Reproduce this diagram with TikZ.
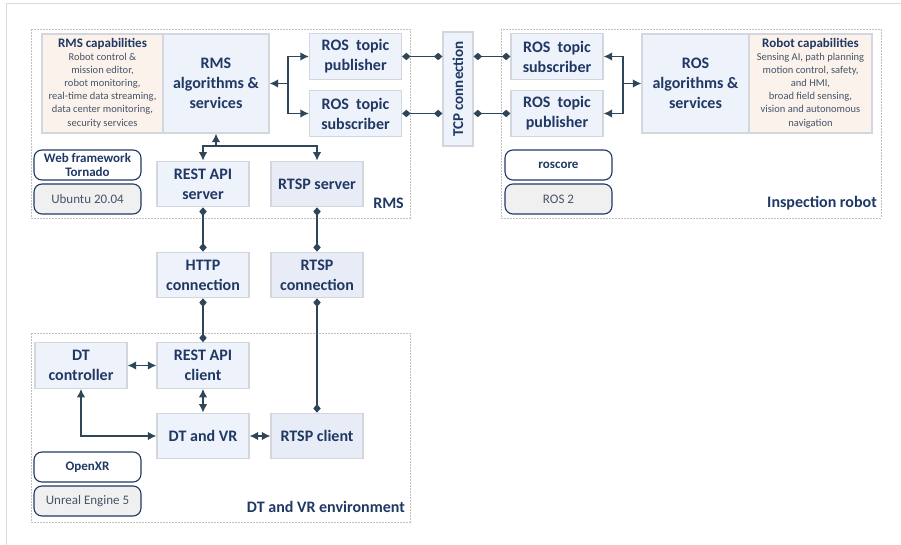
\documentclass[tikz,border=0pt]{standalone}
\usepackage{fontspec}
\setmainfont{Carlito}
\usepackage{tikz}
\usetikzlibrary{arrows.meta, positioning, calc}

\definecolor{navy}{HTML}{1F3864}
\definecolor{slate}{HTML}{44546A}
\definecolor{wire}{HTML}{2E4657}
\definecolor{boxfill}{HTML}{EEF2FA}
\definecolor{boxfilldark}{HTML}{E8ECF6}
\definecolor{boxline}{HTML}{D3D6DC}
\definecolor{peach}{HTML}{FBF2EB}
\definecolor{groupline}{HTML}{BFBFBF}
\definecolor{osfill}{HTML}{F0F0F0}

\tikzset{
  block/.style={draw=boxline, fill=boxfill, text=navy, line width=1.2pt, inner sep=0pt,
    align=center, font=\bfseries\fontsize{16}{20}\selectfont,
    minimum width=92pt, minimum height=45.5pt},
  blockdark/.style={block, fill=boxfilldark},
  bigblock/.style={block, minimum width=106pt, minimum height=99pt},
  capbox/.style={draw=boxline, fill=peach, text=slate, line width=1.2pt, inner sep=0pt,
    align=center, font=\fontsize{10.5}{13}\selectfont,
    minimum width=121pt, minimum height=99pt},
  swbox/.style={draw=navy, fill=white, text=navy, line width=1.1pt, rounded corners=8pt,
    minimum width=107pt, minimum height=30pt, inner sep=0pt, align=center,
    font=\bfseries\fontsize{13}{14.5}\selectfont},
  osbox/.style={swbox, fill=osfill, text=slate, font=\fontsize{13}{14}\selectfont},
  group/.style={draw=groupline, dashed, dash pattern=on 2pt off 1pt, line width=0.8pt},
  grouplabel/.style={text=navy, font=\bfseries\fontsize{16}{18}\selectfont, inner sep=0pt},
  arr/.style={draw=wire, line width=1.5pt, arrows={-Latex[length=8.5pt,width=8.5pt]}},
  twoway/.style={draw=wire, line width=1.5pt, arrows={Latex[length=8.5pt,width=8.5pt]-Latex[length=8.5pt,width=8.5pt]}},
  link/.style={draw=wire, line width=1.5pt, arrows={Diamond[length=8.5pt,width=7.5pt]-Diamond[length=8.5pt,width=7.5pt]}}
}

\begin{document}
\begin{tikzpicture}[x=1pt, y=-1pt]
  \useasboundingbox (0,0) rectangle (901,545);
  % Page frame
  \draw[color=black!15, line width=1pt] (6,545) -- (6,4) -- (901,4);

  % Groups
  \draw[group] (31,29) rectangle (410,218);
  \draw[group] (501,29) rectangle (881,218);
  \draw[group] (31,333) rectangle (410,522);
  \node[grouplabel, anchor=east] (rmslabel) at (404,203) {RMS};
  \node[grouplabel, anchor=east] (robotlabel) at (877,203) {Inspection robot};
  \node[grouplabel, anchor=east] (envlabel) at (405,507) {DT and VR environment};

  % RMS
  \node[capbox] (rmscap) at (102.5,83.5) {{\bfseries\color{navy}\fontsize{13}{15}\selectfont RMS capabilities}\\
    Robot control \&\\ mission editor,\\ robot monitoring,\\ real-time data streaming,\\ data center monitoring,\\[1.5pt] security services};
  \node[bigblock] (rmsalg) at (216,83.5) {RMS\\ algorithms \&\\ services};
  \node[block] (pubL) at (355.5,56.5) {ROS\ \ topic\\ publisher};
  \node[block] (subL) at (355.5,113.5) {ROS\ \ topic\\ subscriber};
  \node[swbox] (tornado) at (87.5,165) {Web framework\\ Tornado};
  \node[osbox] (ubuntu) at (87.5,199) {Ubuntu 20.04};
  \node[block] (restsrv) at (203,184) {REST API\\ server};
  \node[blockdark] (rtspsrv) at (317,184) {RTSP server};

  % TCP link
  \node[block, minimum width=114pt, minimum height=30pt, rotate=90,
    font=\bfseries\fontsize{15}{18}\selectfont] (tcp) at (458,89) {TCP connection};

  % Inspection robot
  \node[block] (subR) at (557,56.5) {ROS\ \ topic\\ subscriber};
  \node[block] (pubR) at (557,113.5) {ROS\ \ topic\\ publisher};
  \node[bigblock, minimum width=107pt] (rosalg) at (695.5,83.5) {ROS\\ algorithms \&\\ services};
  \node[capbox, minimum width=123pt] (robcap) at (810.5,83.5) {{\bfseries\color{navy}\fontsize{13}{15}\selectfont Robot capabilities}\\
    Sensing AI, path planning\\ motion control, safety,\\ and HMI,\\ broad field sensing,\\ vision and autonomous\\[1.5pt] navigation};
  \node[swbox] (roscore) at (558.5,165) {roscore};
  \node[osbox] (ros2) at (558.5,199) {ROS 2};

  % Connections
  \node[block] (http) at (203,275) {HTTP\\ connection};
  \node[blockdark] (rtspcon) at (317,275) {RTSP\\ connection};

  % DT and VR environment
  \node[block] (dtctrl) at (81,365.5) {DT\\ controller};
  \node[block] (restcli) at (203,365.5) {REST API\\ client};
  \node[block] (dtvr) at (203,436) {DT and VR};
  \node[blockdark] (rtspcli) at (317,436) {RTSP client};
  \node[swbox] (openxr) at (87.5,467) {OpenXR};
  \node[osbox] (unreal) at (87.5,501) {Unreal Engine 5};

  % Forks
  \coordinate (forkL) at (288,83.5);
  \coordinate (forkR) at (623,83.5);
  \coordinate (forkB) at (216,146);

  % RMS arrows
  \draw[twoway] (rmsalg.east) -- (forkL) |- (pubL.west);
  \draw[arr] (forkL) |- (subL.west);
  \draw[arr] (forkB) -- (rmsalg.south);
  \draw[twoway] (restsrv.north) |- (forkB) -| (rtspsrv.north);

  % Robot arrows
  \draw[twoway] (subR.east) -| (forkR) -- (rosalg.west);
  \draw[arr] (forkR) |- (pubR.east);

  % TCP links
  \draw[link] (pubL.east) -- (pubL.east -| tcp.north);
  \draw[link] (subL.east) -- (subL.east -| tcp.north);
  \draw[link] (subR.west -| tcp.south) -- (subR.west);
  \draw[link] (pubR.west -| tcp.south) -- (pubR.west);

  % HTTP and RTSP links
  \draw[link] (restsrv.south) -- (http.north);
  \draw[link] (rtspsrv.south) -- (rtspcon.north);
  \draw[link] (http.south) -- (restcli.north);
  \draw[link] (rtspcon.south) -- (rtspcli.north);

  % Environment arrows
  \draw[twoway] (dtctrl.east) -- (restcli.west);
  \draw[twoway] (restcli.south) -- (dtvr.north);
  \draw[twoway] (dtvr.east) -- (rtspcli.west);
  \draw[twoway] (dtctrl.south) |- (dtvr.west);
\end{tikzpicture}
\end{document}
